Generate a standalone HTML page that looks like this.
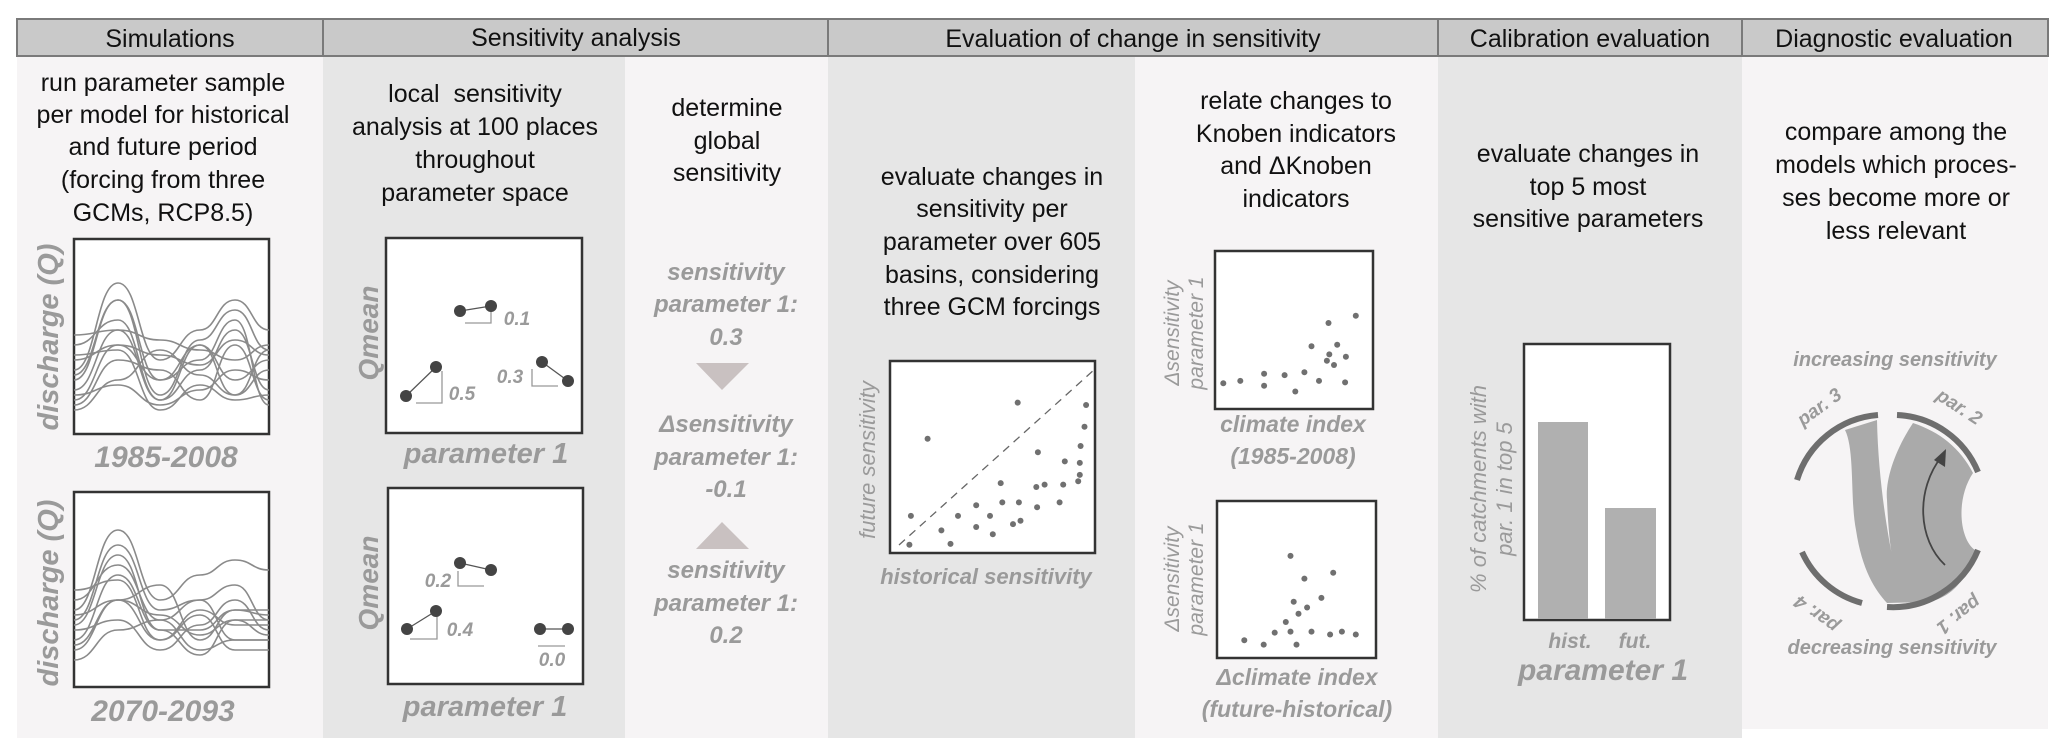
<!DOCTYPE html>
<html><head><meta charset="utf-8"><style>
html,body{margin:0;padding:0;background:#fff;}
svg{display:block;}
.h{font-family:"Liberation Sans",sans-serif;font-size:25px;fill:#111;text-anchor:middle;}
.t{font-family:"Liberation Sans",sans-serif;font-size:25px;fill:#111;text-anchor:middle;}
.g{font-family:"Liberation Sans",sans-serif;font-weight:bold;font-style:italic;fill:#9a9a9a;text-anchor:middle;}
.c{fill:none;stroke:#8a8a8a;stroke-width:1.6;}
.d{fill:#707070;}
</style></head><body>
<svg width="2067" height="756" viewBox="0 0 2067 756" xmlns="http://www.w3.org/2000/svg">
<rect x="17" y="56" width="306" height="682" fill="#f6f4f5"/>
<rect x="323" y="56" width="302" height="682" fill="#e6e6e6"/>
<rect x="625" y="56" width="203" height="682" fill="#f6f4f5"/>
<rect x="828" y="56" width="307" height="682" fill="#e6e6e6"/>
<rect x="1135" y="56" width="303" height="682" fill="#f6f4f5"/>
<rect x="1438" y="56" width="304" height="682" fill="#e6e6e6"/>
<rect x="1742" y="56" width="306" height="673" fill="#f6f4f5"/>
<g fill="#c9c9c9" stroke="#7a7a7a" stroke-width="2">
<rect x="17" y="19" width="306" height="37"/>
<rect x="323" y="19" width="505" height="37"/>
<rect x="828" y="19" width="610" height="37"/>
<rect x="1438" y="19" width="304" height="37"/>
<rect x="1742" y="19" width="306" height="37"/>
</g>
<text class="h" x="170" y="47">Simulations</text>
<text class="h" x="576" y="46">Sensitivity analysis</text>
<text class="h" x="1133" y="47">Evaluation of change in sensitivity</text>
<text class="h" x="1590" y="47">Calibration evaluation</text>
<text class="h" x="1894" y="47">Diagnostic evaluation</text>

<text class="t" x="163" y="91">run parameter sample</text>
<text class="t" x="163" y="123">per model for historical</text>
<text class="t" x="163" y="155">and future period</text>
<text class="t" x="163" y="188">(forcing from three</text>
<text class="t" x="163" y="221">GCMs, RCP8.5)</text>
<rect x="74" y="239" width="195" height="195" fill="#fff" stroke="#333" stroke-width="2.5"/>
<g class="c">
<path d="M74,370 C96,370 96,283 118,283 C139,283 139,360 160,360 C180,360 180,330 200,330 C217,330 217,300 235,300 C252,300 252,330 269,330"/>
<path d="M74,380 C96,380 96,300 118,300 C139,300 139,395 160,395 C180,395 180,340 200,340 C217,340 217,310 235,310 C252,310 252,350 269,350"/>
<path d="M74,345 C96,345 96,320 118,320 C139,320 139,400 160,400 C180,400 180,370 200,370 C217,370 217,330 235,330 C252,330 252,390 269,390"/>
<path d="M74,400 C96,400 96,345 118,345 C139,345 139,380 160,380 C180,380 180,360 200,360 C217,360 217,320 235,320 C252,320 252,405 269,405"/>
<path d="M74,335 C96,335 96,330 118,330 C139,330 139,340 160,340 C180,340 180,350 200,350 C217,350 217,360 235,360 C252,360 252,345 269,345"/>
<path d="M74,360 C96,360 96,345 118,345 C139,345 139,355 160,355 C180,355 180,365 200,365 C217,365 217,340 235,340 C252,340 252,355 269,355"/>
<path d="M74,410 C96,410 96,380 118,380 C139,380 139,350 160,350 C180,350 180,375 200,375 C217,375 217,395 235,395 C252,395 252,370 269,370"/>
<path d="M74,390 C96,390 96,330 118,330 C139,330 139,400 160,400 C180,400 180,345 200,345 C217,345 217,380 235,380 C252,380 252,360 269,360"/>
<path d="M74,395 C96,395 96,385 118,385 C139,385 139,405 160,405 C180,405 180,390 200,390 C217,390 217,370 235,370 C252,370 252,380 269,380"/>
<path d="M74,375 C96,375 96,300 118,300 C139,300 139,380 160,380 C180,380 180,345 200,345 C217,345 217,395 235,395 C252,395 252,350 269,350"/>
<path d="M74,355 C96,355 96,350 118,350 C139,350 139,410 160,410 C180,410 180,385 200,385 C217,385 217,400 235,400 C252,400 252,395 269,395"/>
<path d="M74,405 C96,405 96,360 118,360 C139,360 139,370 160,370 C180,370 180,400 200,400 C217,400 217,345 235,345 C252,345 252,400 269,400"/>
</g>
<text class="g" font-size="29" transform="translate(58,337) rotate(-90)">discharge (Q)</text>
<text class="g" font-size="30" x="166" y="467">1985-2008</text>
<rect x="74" y="492" width="195" height="195" fill="#fff" stroke="#333" stroke-width="2.5"/>
<g class="c">
<path d="M74,610 C96,610 96,530 118,530 C139,530 139,600 160,600 C180,600 180,575 200,575 C217,575 217,560 235,560 C252,560 252,570 269,570"/>
<path d="M74,620 C96,620 96,545 118,545 C139,545 139,610 160,610 C180,610 180,600 200,600 C217,600 217,585 235,585 C252,585 252,620 269,620"/>
<path d="M74,600 C96,600 96,565 118,565 C139,565 139,620 160,620 C180,620 180,600 200,600 C217,600 217,640 235,640 C252,640 252,640 269,640"/>
<path d="M74,640 C96,640 96,575 118,575 C139,575 139,630 160,630 C180,630 180,630 200,630 C217,630 217,610 235,610 C252,610 252,615 269,615"/>
<path d="M74,590 C96,590 96,580 118,580 C139,580 139,640 160,640 C180,640 180,610 200,610 C217,610 217,625 235,625 C252,625 252,625 269,625"/>
<path d="M74,650 C96,650 96,600 118,600 C139,600 139,615 160,615 C180,615 180,635 200,635 C217,635 217,620 235,620 C252,620 252,620 269,620"/>
<path d="M74,630 C96,630 96,620 118,620 C139,620 139,650 160,650 C180,650 180,625 200,625 C217,625 217,600 235,600 C252,600 252,630 269,630"/>
<path d="M74,660 C96,660 96,630 118,630 C139,630 139,620 160,620 C180,620 180,650 200,650 C217,650 217,640 235,640 C252,640 252,640 269,640"/>
<path d="M74,615 C96,615 96,600 118,600 C139,600 139,585 160,585 C180,585 180,640 200,640 C217,640 217,610 235,610 C252,610 252,610 269,610"/>
<path d="M74,645 C96,645 96,600 118,600 C139,600 139,640 160,640 C180,640 180,615 200,615 C217,615 217,650 235,650 C252,650 252,650 269,650"/>
<path d="M74,625 C96,625 96,555 118,555 C139,555 139,630 160,630 C180,630 180,655 200,655 C217,655 217,620 235,620 C252,620 252,635 269,635"/>
</g>
<text class="g" font-size="29" transform="translate(58,593) rotate(-90)">discharge (Q)</text>
<text class="g" font-size="30" x="163" y="721">2070-2093</text>

<text class="t" x="475" y="102" xml:space="preserve">local  sensitivity</text>
<text class="t" x="475" y="135">analysis at 100 places</text>
<text class="t" x="475" y="168">throughout</text>
<text class="t" x="475" y="201">parameter space</text>
<rect x="386" y="238" width="196" height="195" fill="#fff" stroke="#333" stroke-width="2.5"/>
<text class="g" font-size="28" transform="translate(378,333) rotate(-90)">Qmean</text>
<g stroke="#555" stroke-width="1.3" fill="none">
<line x1="460" y1="311" x2="491" y2="306"/><polyline points="465,323 491,323 491,311" stroke="#999"/>
<line x1="406" y1="396" x2="436" y2="367"/><polyline points="416,403 442,403 442,371" stroke="#999"/>
<line x1="542" y1="362" x2="568" y2="381"/><polyline points="532,369 532,386 558,386" stroke="#999"/>
</g>
<g fill="#444"><circle cx="460" cy="311" r="6"/><circle cx="491" cy="306" r="6"/><circle cx="406" cy="396" r="6"/><circle cx="436" cy="367" r="6"/><circle cx="542" cy="362" r="6"/><circle cx="568" cy="381" r="6"/></g>
<text class="g" font-size="19" x="517" y="325">0.1</text>
<text class="g" font-size="19" x="462" y="400">0.5</text>
<text class="g" font-size="19" x="510" y="383">0.3</text>
<text class="g" font-size="29" x="486" y="463">parameter 1</text>
<rect x="388" y="488" width="195" height="196" fill="#fff" stroke="#333" stroke-width="2.5"/>
<text class="g" font-size="28" transform="translate(378,583) rotate(-90)">Qmean</text>
<g stroke="#555" stroke-width="1.3" fill="none">
<line x1="460" y1="563" x2="491" y2="570"/><polyline points="458,571 458,586 484,586" stroke="#999"/>
<line x1="407" y1="629" x2="436" y2="611"/><polyline points="410,639 437,639 437,615" stroke="#999"/>
<line x1="540" y1="629" x2="568" y2="629"/><line x1="538" y1="646" x2="565" y2="646" stroke="#999"/>
</g>
<g fill="#444"><circle cx="460" cy="563" r="6"/><circle cx="491" cy="570" r="6"/><circle cx="407" cy="629" r="6"/><circle cx="436" cy="611" r="6"/><circle cx="540" cy="629" r="6"/><circle cx="568" cy="629" r="6"/></g>
<text class="g" font-size="19" x="438" y="587">0.2</text>
<text class="g" font-size="19" x="460" y="636">0.4</text>
<text class="g" font-size="19" x="552" y="666">0.0</text>
<text class="g" font-size="29" x="485" y="716">parameter 1</text>

<text class="t" x="727" y="116">determine</text>
<text class="t" x="727" y="149">global</text>
<text class="t" x="727" y="181">sensitivity</text>
<text class="g" font-size="24" x="726" y="280">sensitivity</text>
<text class="g" font-size="24" x="726" y="312">parameter 1:</text>
<text class="g" font-size="24" x="726" y="345">0.3</text>
<polygon points="696,363 749,363 722,390" fill="#c9c1c1"/>
<text class="g" font-size="24" x="726" y="432">Δsensitivity</text>
<text class="g" font-size="24" x="726" y="465">parameter 1:</text>
<text class="g" font-size="24" x="726" y="497">-0.1</text>
<polygon points="696,549 749,549 722,522" fill="#c9c1c1"/>
<text class="g" font-size="24" x="726" y="578">sensitivity</text>
<text class="g" font-size="24" x="726" y="611">parameter 1:</text>
<text class="g" font-size="24" x="726" y="643">0.2</text>

<text class="t" x="992" y="185">evaluate changes in</text>
<text class="t" x="992" y="217">sensitivity per</text>
<text class="t" x="992" y="250">parameter over 605</text>
<text class="t" x="992" y="283">basins, considering</text>
<text class="t" x="992" y="315">three GCM forcings</text>
<rect x="890" y="361" width="205" height="192" fill="#fff" stroke="#333" stroke-width="2.5"/>
<line x1="899" y1="545" x2="1095" y2="369" stroke="#666" stroke-width="1.3" stroke-dasharray="8,6"/>
<g class="d">
<circle cx="927.6" cy="438.8" r="3"/><circle cx="1017.7" cy="402.6" r="3"/><circle cx="1086.1" cy="405" r="3"/><circle cx="1084.5" cy="426.7" r="3"/><circle cx="1080.6" cy="446" r="3"/><circle cx="1037.9" cy="452.3" r="3"/><circle cx="1064.8" cy="461.4" r="3"/><circle cx="1079.8" cy="462.9" r="3"/><circle cx="1079.8" cy="474.9" r="3"/><circle cx="1078.2" cy="481.2" r="3"/><circle cx="1000.7" cy="483.1" r="3"/><circle cx="1036.3" cy="487" r="3"/><circle cx="1044.6" cy="484.6" r="3"/><circle cx="1063.2" cy="484.6" r="3"/><circle cx="910.9" cy="515.9" r="3"/><circle cx="958" cy="515.9" r="3"/><circle cx="976.2" cy="505.3" r="3"/><circle cx="1002.3" cy="502.4" r="3"/><circle cx="1018.9" cy="502.4" r="3"/><circle cx="1037.1" cy="507.2" r="3"/><circle cx="1059.6" cy="502.4" r="3"/><circle cx="990" cy="515.9" r="3"/><circle cx="941.4" cy="530.4" r="3"/><circle cx="976.2" cy="527" r="3"/><circle cx="1013" cy="524.1" r="3"/><circle cx="1020.5" cy="520.7" r="3"/><circle cx="992.8" cy="534.2" r="3"/><circle cx="950.5" cy="543.9" r="3"/><circle cx="909.4" cy="544.8" r="3"/>
</g>
<text class="g" font-size="22" style="font-weight:normal" transform="translate(875,460) rotate(-90)">future sensitivity</text>
<text class="g" font-size="22" x="986" y="584">historical sensitivity</text>

<text class="t" x="1296" y="109">relate changes to</text>
<text class="t" x="1296" y="142">Knoben indicators</text>
<text class="t" x="1296" y="174">and ΔKnoben</text>
<text class="t" x="1296" y="207">indicators</text>
<rect x="1215" y="251" width="158" height="158" fill="#fff" stroke="#333" stroke-width="2.5"/>
<g class="d">
<circle cx="1223.3" cy="383.3" r="3"/><circle cx="1240.3" cy="380.9" r="3"/><circle cx="1264.1" cy="373.7" r="3"/><circle cx="1264.1" cy="385.7" r="3"/><circle cx="1284.6" cy="375.1" r="3"/><circle cx="1295.3" cy="391.5" r="3"/><circle cx="1304.4" cy="372.2" r="3"/><circle cx="1311.5" cy="346.2" r="3"/><circle cx="1319" cy="380.9" r="3"/><circle cx="1328.5" cy="323" r="3"/><circle cx="1337.2" cy="344.7" r="3"/><circle cx="1329.3" cy="354.4" r="3"/><circle cx="1326.9" cy="360.7" r="3"/><circle cx="1334" cy="365" r="3"/><circle cx="1345.9" cy="356.8" r="3"/><circle cx="1345.1" cy="382.4" r="3"/><circle cx="1355.8" cy="315.8" r="3"/>
</g>
<text class="g" font-size="21" style="font-weight:normal" transform="translate(1179,333) rotate(-90)">Δsensitivity</text>
<text class="g" font-size="21" style="font-weight:normal" transform="translate(1203,333) rotate(-90)">parameter 1</text>
<text class="g" font-size="23" x="1293" y="432">climate index</text>
<text class="g" font-size="23" x="1293" y="464">(1985-2008)</text>
<rect x="1217" y="501" width="159" height="157" fill="#fff" stroke="#333" stroke-width="2.5"/>
<g class="d">
<circle cx="1244.3" cy="640.3" r="3"/><circle cx="1263.7" cy="644.6" r="3"/><circle cx="1274.7" cy="632.6" r="3"/><circle cx="1285.8" cy="622" r="3"/><circle cx="1290.5" cy="631.6" r="3"/><circle cx="1296.5" cy="644.6" r="3"/><circle cx="1290.5" cy="555.9" r="3"/><circle cx="1304.4" cy="578.6" r="3"/><circle cx="1293.7" cy="601.7" r="3"/><circle cx="1298.5" cy="613.8" r="3"/><circle cx="1307.1" cy="607.5" r="3"/><circle cx="1311.5" cy="631.6" r="3"/><circle cx="1321.4" cy="597.9" r="3"/><circle cx="1330.1" cy="634.5" r="3"/><circle cx="1333.2" cy="572.8" r="3"/><circle cx="1341.9" cy="631.6" r="3"/><circle cx="1355.8" cy="634.5" r="3"/>
</g>
<text class="g" font-size="21" style="font-weight:normal" transform="translate(1179,579) rotate(-90)">Δsensitivity</text>
<text class="g" font-size="21" style="font-weight:normal" transform="translate(1203,579) rotate(-90)">parameter 1</text>
<text class="g" font-size="23" x="1297" y="685">Δclimate index</text>
<text class="g" font-size="23" x="1297" y="717">(future-historical)</text>

<text class="t" x="1588" y="162">evaluate changes in</text>
<text class="t" x="1588" y="195">top 5 most</text>
<text class="t" x="1588" y="227">sensitive parameters</text>
<rect x="1524" y="344" width="146" height="276" fill="#fff" stroke="#333" stroke-width="2.5"/>
<rect x="1538" y="422" width="50" height="197" fill="#b0b0b0"/>
<rect x="1605" y="508" width="51" height="111" fill="#b0b0b0"/>
<text class="g" font-size="22" style="font-weight:normal" transform="translate(1486,489) rotate(-90)">% of catchments with</text>
<text class="g" font-size="22" style="font-weight:normal" transform="translate(1512,489) rotate(-90)">par. 1 in top 5</text>
<text class="g" font-size="21" x="1570" y="648">hist.</text>
<text class="g" font-size="21" x="1635" y="648">fut.</text>
<text class="g" font-size="30" x="1603" y="680">parameter 1</text>

<text class="t" x="1896" y="140">compare among the</text>
<text class="t" x="1896" y="173">models which proces-</text>
<text class="t" x="1896" y="206">ses become more or</text>
<text class="t" x="1896" y="239">less relevant</text>
<text class="g" font-size="20" x="1895" y="366">increasing sensitivity</text>
<text class="g" font-size="20" x="1892" y="654">decreasing sensitivity</text>
<path d="M1845,430 C1855,450 1850,500 1856,530 C1862,570 1875,590 1887,603 L1930,602 C1950,596 1965,585 1975,550 C1960,540 1955,500 1973,473 C1960,448 1940,432 1913,423 C1895,450 1885,480 1887,500 C1888,525 1890,545 1892,555 C1885,520 1878,470 1877,420 Z" fill="#aaaaaa"/>
<g fill="none" stroke="#6e6e6e" stroke-width="6">
<path d="M1797,480 A92,92 0 0 1 1878,415"/>
<path d="M1897,415 A92,92 0 0 1 1978,472"/>
<path d="M1978,550 A92,92 0 0 1 1887,607"/>
<path d="M1862,603 A92,92 0 0 1 1802,552"/>
</g>
<path d="M1945,565 C1918,540 1915,490 1942,456" fill="none" stroke="#444" stroke-width="1.8"/>
<polygon points="1946,449 1945,467 1934,460" fill="#444"/>
<text class="g" font-size="19" transform="translate(1823,412) rotate(-36)">par. 3</text>
<text class="g" font-size="19" transform="translate(1956,412) rotate(33)">par. 2</text>
<text class="g" font-size="19" transform="translate(1955,610) rotate(142)">par. 1</text>
<text class="g" font-size="19" transform="translate(1820,609) rotate(-144)">par. 4</text>
</svg>
</body></html>
